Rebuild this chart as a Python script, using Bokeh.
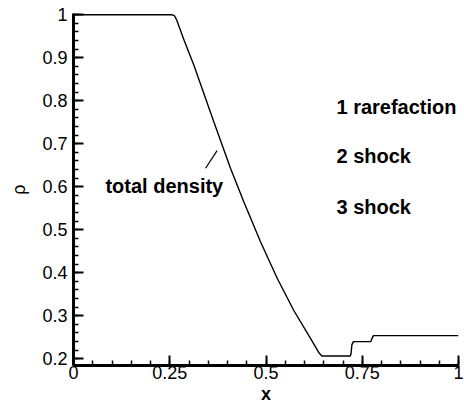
from bokeh.plotting import figure
from bokeh.models import Range1d, FixedTicker
from bokeh.core.properties import value
from bokeh.embed import file_html
from bokeh.resources import INLINE

# density profile
x_vals = [0.0, 0.255, 0.262, 0.268, 0.2875, 0.3125, 0.3644, 0.4078, 0.4423,
          0.4857, 0.5291, 0.5722, 0.6156, 0.638, 0.645, 0.719, 0.721, 0.723,
          0.727, 0.772, 0.775, 0.779, 1.0]
rho_vals = [1.0, 1.0, 0.998, 0.988, 0.94, 0.883, 0.751, 0.643, 0.565,
            0.472, 0.387, 0.312, 0.247, 0.213, 0.206, 0.206, 0.212, 0.232,
            0.2395, 0.2395, 0.246, 0.2535, 0.2535]

x_ticks = [0, 0.25, 0.5, 0.75, 1.0]
x_tick_labels = ["0", "0.25", "0.5", "0.75", "1"]
y_ticks = [0.2, 0.3, 0.4, 0.5, 0.6, 0.7, 0.8, 0.9, 1.0]
y_tick_labels = ["0.2", "0.3", "0.4", "0.5", "0.6", "0.7", "0.8", "0.9", "1"]
x_minor = [i / 20 for i in range(21)]
y_minor = [0.2 + i * 0.02 for i in range(41)]

wave_labels = ["1 rarefaction", "2 shock", "3 shock"]
wave_x = [0.683, 0.683, 0.683]
wave_y = [0.786, 0.672, 0.553]

curve_label = ["total density"]
curve_label_x = [0.083]
curve_label_y = [0.602]
pointer_x = [0.343, 0.373]
pointer_y = [0.643, 0.684]

FONT = "Liberation Sans"
X0, X1 = 0.0, 1.0
Y0, Y1 = 0.184, 1.003

p = figure(width=464, height=406, output_backend="svg", toolbar_location=None,
           x_range=Range1d(X0, X1), y_range=Range1d(Y0, Y1),
           min_border_left=73, min_border_right=6, min_border_top=13,
           min_border_bottom=36)
p.outline_line_color = None
p.xgrid.visible = False
p.ygrid.visible = False
p.background_fill_color = "white"
p.border_fill_color = "white"

p.xaxis.ticker = FixedTicker(ticks=x_ticks, minor_ticks=x_minor)
p.yaxis.ticker = FixedTicker(ticks=y_ticks, minor_ticks=y_minor)
p.xaxis.major_label_overrides = {t: l for t, l in zip(x_ticks, x_tick_labels)}
p.yaxis.major_label_overrides = {t: l for t, l in zip(y_ticks, y_tick_labels)}

for ax in p.axis:
    ax.axis_line_color = "black"
    ax.axis_line_width = 3
    ax.major_tick_in = 10
    ax.major_tick_out = 0
    ax.minor_tick_in = 5
    ax.minor_tick_out = 0
    ax.major_tick_line_color = "black"
    ax.major_tick_line_width = 2
    ax.minor_tick_line_color = "black"
    ax.minor_tick_line_width = 1.5
    ax.major_label_text_font = FONT
    ax.major_label_text_font_size = "18px"
    ax.major_label_text_color = "black"
    ax.axis_label_text_font = FONT
    ax.axis_label_text_color = "black"

p.xaxis.major_label_standoff = 0
p.yaxis.major_label_standoff = 6
p.xaxis.axis_label = "x"
p.xaxis.axis_label_text_font_style = "bold"
p.xaxis.axis_label_text_font_size = "18px"
p.xaxis.axis_label_standoff = 2
p.yaxis.axis_label = "ρ"
p.yaxis.axis_label_text_font_style = "normal"
p.yaxis.axis_label_text_font_size = "18px"
p.yaxis.axis_label_standoff = 10

p.line(x_vals, rho_vals, line_color="black", line_width=1.4)
p.line(pointer_x, pointer_y, line_color="black", line_width=1.2)

p.text(x=curve_label_x, y=curve_label_y, text=curve_label,
       text_font=value(FONT), text_font_style="bold", text_font_size="20px",
       text_align="left", text_baseline="middle", text_color="black")
p.text(x=wave_x, y=wave_y, text=wave_labels,
       text_font=value(FONT), text_font_style="bold", text_font_size="20px",
       text_align="left", text_baseline="middle", text_color="black")

open("out.html", "w").write(file_html(p, INLINE))
